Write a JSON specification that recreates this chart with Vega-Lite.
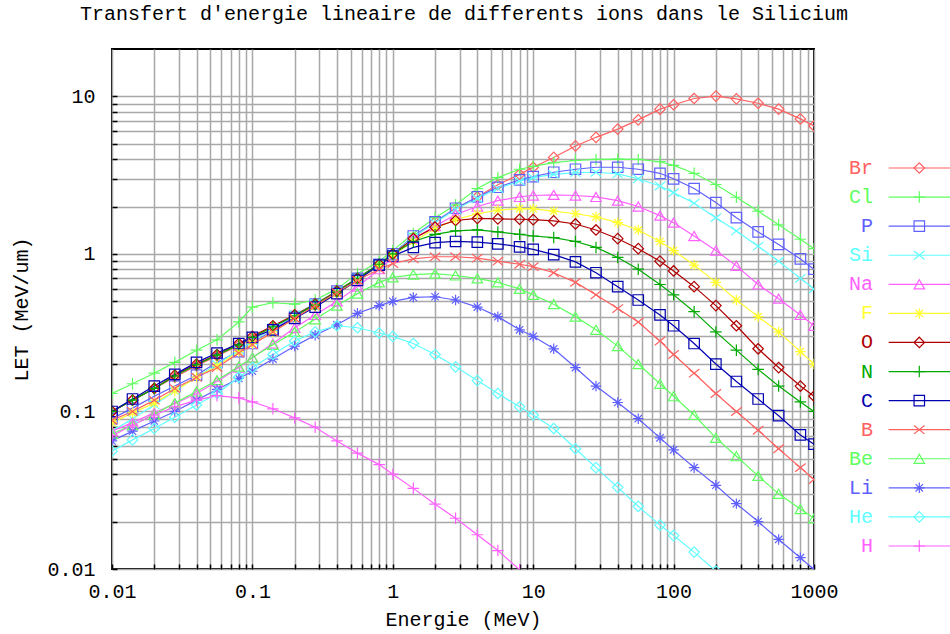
{
"$schema":"https://vega.github.io/schema/vega-lite/v6.json",
"background":"white",
"padding":{"left":10,"top":4,"right":0,"bottom":0},
"title":{"text":"Transfert d'energie lineaire de differents ions dans le Silicium","font":"Liberation Mono","fontSize":20,"fontWeight":"normal","color":"black","anchor":"start","frame":"bounds","dx":69,"offset":24},
"spacing":0,
"bounds":"flush",
"datasets":{
"legend":[{"ion":"Br"},{"ion":"Cl"},{"ion":"P"},{"ion":"Si"},{"ion":"Na"},{"ion":"F"},{"ion":"O"},{"ion":"N"},{"ion":"C"},{"ion":"B"},{"ion":"Be"},{"ion":"Li"},{"ion":"He"},{"ion":"H"}],
"let":[
{"ion":"Br","E":0.01,"LET":0.1},{"ion":"Br","E":0.014,"LET":0.118},{"ion":"Br","E":0.02,"LET":0.14},{"ion":"Br","E":0.028,"LET":0.165},{"ion":"Br","E":0.04,"LET":0.195},{"ion":"Br","E":0.056,"LET":0.225},{"ion":"Br","E":0.08,"LET":0.262},{"ion":"Br","E":0.1,"LET":0.29},{"ion":"Br","E":0.14,"LET":0.34},{"ion":"Br","E":0.2,"LET":0.41},{"ion":"Br","E":0.28,"LET":0.485},{"ion":"Br","E":0.4,"LET":0.58},{"ion":"Br","E":0.56,"LET":0.7},{"ion":"Br","E":0.8,"LET":0.86},{"ion":"Br","E":1,"LET":1.0},{"ion":"Br","E":1.4,"LET":1.27},{"ion":"Br","E":2,"LET":1.6},{"ion":"Br","E":2.8,"LET":1.93},{"ion":"Br","E":4,"LET":2.3},{"ion":"Br","E":5.6,"LET":2.75},{"ion":"Br","E":8,"LET":3.2},{"ion":"Br","E":10,"LET":3.55},{"ion":"Br","E":14,"LET":4.1},{"ion":"Br","E":20,"LET":4.85},{"ion":"Br","E":28,"LET":5.5},{"ion":"Br","E":40,"LET":6.2},{"ion":"Br","E":56,"LET":7.1},{"ion":"Br","E":80,"LET":8.3},{"ion":"Br","E":100,"LET":8.85},{"ion":"Br","E":140,"LET":9.7},{"ion":"Br","E":200,"LET":10.05},{"ion":"Br","E":280,"LET":9.65},{"ion":"Br","E":400,"LET":9.05},{"ion":"Br","E":560,"LET":8.3},{"ion":"Br","E":800,"LET":7.2},{"ion":"Br","E":1000,"LET":6.5},
{"ion":"Cl","E":0.01,"LET":0.13},{"ion":"Cl","E":0.014,"LET":0.15},{"ion":"Cl","E":0.02,"LET":0.175},{"ion":"Cl","E":0.028,"LET":0.205},{"ion":"Cl","E":0.04,"LET":0.245},{"ion":"Cl","E":0.056,"LET":0.285},{"ion":"Cl","E":0.08,"LET":0.37},{"ion":"Cl","E":0.1,"LET":0.46},{"ion":"Cl","E":0.14,"LET":0.49},{"ion":"Cl","E":0.2,"LET":0.48},{"ion":"Cl","E":0.28,"LET":0.51},{"ion":"Cl","E":0.4,"LET":0.6},{"ion":"Cl","E":0.56,"LET":0.75},{"ion":"Cl","E":0.8,"LET":0.9},{"ion":"Cl","E":1,"LET":1.05},{"ion":"Cl","E":1.4,"LET":1.35},{"ion":"Cl","E":2,"LET":1.7},{"ion":"Cl","E":2.8,"LET":2.05},{"ion":"Cl","E":4,"LET":2.6},{"ion":"Cl","E":5.6,"LET":3.05},{"ion":"Cl","E":8,"LET":3.45},{"ion":"Cl","E":10,"LET":3.6},{"ion":"Cl","E":14,"LET":3.8},{"ion":"Cl","E":20,"LET":3.92},{"ion":"Cl","E":28,"LET":3.98},{"ion":"Cl","E":40,"LET":4.0},{"ion":"Cl","E":56,"LET":3.98},{"ion":"Cl","E":80,"LET":3.85},{"ion":"Cl","E":100,"LET":3.65},{"ion":"Cl","E":140,"LET":3.25},{"ion":"Cl","E":200,"LET":2.76},{"ion":"Cl","E":280,"LET":2.29},{"ion":"Cl","E":400,"LET":1.87},{"ion":"Cl","E":560,"LET":1.53},{"ion":"Cl","E":800,"LET":1.24},{"ion":"Cl","E":1000,"LET":1.08},
{"ion":"P","E":0.01,"LET":0.09},{"ion":"P","E":0.014,"LET":0.105},{"ion":"P","E":0.02,"LET":0.125},{"ion":"P","E":0.028,"LET":0.145},{"ion":"P","E":0.04,"LET":0.17},{"ion":"P","E":0.056,"LET":0.205},{"ion":"P","E":0.08,"LET":0.24},{"ion":"P","E":0.1,"LET":0.27},{"ion":"P","E":0.14,"LET":0.33},{"ion":"P","E":0.2,"LET":0.4},{"ion":"P","E":0.28,"LET":0.48},{"ion":"P","E":0.4,"LET":0.58},{"ion":"P","E":0.56,"LET":0.7},{"ion":"P","E":0.8,"LET":0.86},{"ion":"P","E":1,"LET":1.0},{"ion":"P","E":1.4,"LET":1.3},{"ion":"P","E":2,"LET":1.6},{"ion":"P","E":2.8,"LET":1.95},{"ion":"P","E":4,"LET":2.3},{"ion":"P","E":5.6,"LET":2.65},{"ion":"P","E":8,"LET":2.95},{"ion":"P","E":10,"LET":3.1},{"ion":"P","E":14,"LET":3.3},{"ion":"P","E":20,"LET":3.45},{"ion":"P","E":28,"LET":3.55},{"ion":"P","E":40,"LET":3.55},{"ion":"P","E":56,"LET":3.45},{"ion":"P","E":80,"LET":3.25},{"ion":"P","E":100,"LET":3.0},{"ion":"P","E":140,"LET":2.6},{"ion":"P","E":200,"LET":2.12},{"ion":"P","E":280,"LET":1.7},{"ion":"P","E":400,"LET":1.38},{"ion":"P","E":560,"LET":1.15},{"ion":"P","E":800,"LET":0.93},{"ion":"P","E":1000,"LET":0.8},
{"ion":"Si","E":0.01,"LET":0.075},{"ion":"Si","E":0.014,"LET":0.09},{"ion":"Si","E":0.02,"LET":0.11},{"ion":"Si","E":0.028,"LET":0.135},{"ion":"Si","E":0.04,"LET":0.165},{"ion":"Si","E":0.056,"LET":0.2},{"ion":"Si","E":0.08,"LET":0.245},{"ion":"Si","E":0.1,"LET":0.28},{"ion":"Si","E":0.14,"LET":0.34},{"ion":"Si","E":0.2,"LET":0.41},{"ion":"Si","E":0.28,"LET":0.485},{"ion":"Si","E":0.4,"LET":0.58},{"ion":"Si","E":0.56,"LET":0.7},{"ion":"Si","E":0.8,"LET":0.86},{"ion":"Si","E":1,"LET":1.0},{"ion":"Si","E":1.4,"LET":1.28},{"ion":"Si","E":2,"LET":1.58},{"ion":"Si","E":2.8,"LET":1.92},{"ion":"Si","E":4,"LET":2.25},{"ion":"Si","E":5.6,"LET":2.6},{"ion":"Si","E":8,"LET":2.9},{"ion":"Si","E":10,"LET":3.05},{"ion":"Si","E":14,"LET":3.2},{"ion":"Si","E":20,"LET":3.28},{"ion":"Si","E":28,"LET":3.3},{"ion":"Si","E":40,"LET":3.22},{"ion":"Si","E":56,"LET":3.0},{"ion":"Si","E":80,"LET":2.7},{"ion":"Si","E":100,"LET":2.45},{"ion":"Si","E":140,"LET":2.1},{"ion":"Si","E":200,"LET":1.7},{"ion":"Si","E":280,"LET":1.4},{"ion":"Si","E":400,"LET":1.12},{"ion":"Si","E":560,"LET":0.9},{"ion":"Si","E":800,"LET":0.7},{"ion":"Si","E":1000,"LET":0.6},
{"ion":"Na","E":0.01,"LET":0.075},{"ion":"Na","E":0.014,"LET":0.085},{"ion":"Na","E":0.02,"LET":0.098},{"ion":"Na","E":0.028,"LET":0.112},{"ion":"Na","E":0.04,"LET":0.13},{"ion":"Na","E":0.056,"LET":0.155},{"ion":"Na","E":0.08,"LET":0.19},{"ion":"Na","E":0.1,"LET":0.22},{"ion":"Na","E":0.14,"LET":0.27},{"ion":"Na","E":0.2,"LET":0.34},{"ion":"Na","E":0.28,"LET":0.41},{"ion":"Na","E":0.4,"LET":0.5},{"ion":"Na","E":0.56,"LET":0.62},{"ion":"Na","E":0.8,"LET":0.8},{"ion":"Na","E":1,"LET":0.95},{"ion":"Na","E":1.4,"LET":1.25},{"ion":"Na","E":2,"LET":1.5},{"ion":"Na","E":2.8,"LET":1.78},{"ion":"Na","E":4,"LET":2.0},{"ion":"Na","E":5.6,"LET":2.18},{"ion":"Na","E":8,"LET":2.3},{"ion":"Na","E":10,"LET":2.35},{"ion":"Na","E":14,"LET":2.37},{"ion":"Na","E":20,"LET":2.35},{"ion":"Na","E":28,"LET":2.3},{"ion":"Na","E":40,"LET":2.18},{"ion":"Na","E":56,"LET":2.0},{"ion":"Na","E":80,"LET":1.75},{"ion":"Na","E":100,"LET":1.58},{"ion":"Na","E":140,"LET":1.3},{"ion":"Na","E":200,"LET":1.05},{"ion":"Na","E":280,"LET":0.84},{"ion":"Na","E":400,"LET":0.64},{"ion":"Na","E":560,"LET":0.52},{"ion":"Na","E":800,"LET":0.41},{"ion":"Na","E":1000,"LET":0.35},
{"ion":"F","E":0.01,"LET":0.085},{"ion":"F","E":0.014,"LET":0.098},{"ion":"F","E":0.02,"LET":0.113},{"ion":"F","E":0.028,"LET":0.135},{"ion":"F","E":0.04,"LET":0.165},{"ion":"F","E":0.056,"LET":0.195},{"ion":"F","E":0.08,"LET":0.24},{"ion":"F","E":0.1,"LET":0.27},{"ion":"F","E":0.14,"LET":0.32},{"ion":"F","E":0.2,"LET":0.39},{"ion":"F","E":0.28,"LET":0.465},{"ion":"F","E":0.4,"LET":0.56},{"ion":"F","E":0.56,"LET":0.68},{"ion":"F","E":0.8,"LET":0.85},{"ion":"F","E":1,"LET":0.98},{"ion":"F","E":1.4,"LET":1.2},{"ion":"F","E":2,"LET":1.45},{"ion":"F","E":2.8,"LET":1.65},{"ion":"F","E":4,"LET":1.8},{"ion":"F","E":5.6,"LET":1.9},{"ion":"F","E":8,"LET":1.94},{"ion":"F","E":10,"LET":1.93},{"ion":"F","E":14,"LET":1.87},{"ion":"F","E":20,"LET":1.8},{"ion":"F","E":28,"LET":1.72},{"ion":"F","E":40,"LET":1.58},{"ion":"F","E":56,"LET":1.42},{"ion":"F","E":80,"LET":1.2},{"ion":"F","E":100,"LET":1.05},{"ion":"F","E":140,"LET":0.85},{"ion":"F","E":200,"LET":0.66},{"ion":"F","E":280,"LET":0.51},{"ion":"F","E":400,"LET":0.4},{"ion":"F","E":560,"LET":0.32},{"ion":"F","E":800,"LET":0.24},{"ion":"F","E":1000,"LET":0.2},
{"ion":"O","E":0.01,"LET":0.1},{"ion":"O","E":0.014,"LET":0.118},{"ion":"O","E":0.02,"LET":0.14},{"ion":"O","E":0.028,"LET":0.17},{"ion":"O","E":0.04,"LET":0.2},{"ion":"O","E":0.056,"LET":0.23},{"ion":"O","E":0.08,"LET":0.27},{"ion":"O","E":0.1,"LET":0.3},{"ion":"O","E":0.14,"LET":0.35},{"ion":"O","E":0.2,"LET":0.41},{"ion":"O","E":0.28,"LET":0.48},{"ion":"O","E":0.4,"LET":0.58},{"ion":"O","E":0.56,"LET":0.7},{"ion":"O","E":0.8,"LET":0.86},{"ion":"O","E":1,"LET":1.0},{"ion":"O","E":1.4,"LET":1.25},{"ion":"O","E":2,"LET":1.48},{"ion":"O","E":2.8,"LET":1.63},{"ion":"O","E":4,"LET":1.68},{"ion":"O","E":5.6,"LET":1.67},{"ion":"O","E":8,"LET":1.66},{"ion":"O","E":10,"LET":1.65},{"ion":"O","E":14,"LET":1.62},{"ion":"O","E":20,"LET":1.55},{"ion":"O","E":28,"LET":1.42},{"ion":"O","E":40,"LET":1.25},{"ion":"O","E":56,"LET":1.08},{"ion":"O","E":80,"LET":0.9},{"ion":"O","E":100,"LET":0.78},{"ion":"O","E":140,"LET":0.62},{"ion":"O","E":200,"LET":0.47},{"ion":"O","E":280,"LET":0.35},{"ion":"O","E":400,"LET":0.25},{"ion":"O","E":560,"LET":0.19},{"ion":"O","E":800,"LET":0.145},{"ion":"O","E":1000,"LET":0.125},
{"ion":"N","E":0.01,"LET":0.1},{"ion":"N","E":0.014,"LET":0.118},{"ion":"N","E":0.02,"LET":0.14},{"ion":"N","E":0.028,"LET":0.168},{"ion":"N","E":0.04,"LET":0.198},{"ion":"N","E":0.056,"LET":0.228},{"ion":"N","E":0.08,"LET":0.265},{"ion":"N","E":0.1,"LET":0.295},{"ion":"N","E":0.14,"LET":0.345},{"ion":"N","E":0.2,"LET":0.405},{"ion":"N","E":0.28,"LET":0.475},{"ion":"N","E":0.4,"LET":0.575},{"ion":"N","E":0.56,"LET":0.7},{"ion":"N","E":0.8,"LET":0.86},{"ion":"N","E":1,"LET":1.0},{"ion":"N","E":1.4,"LET":1.2},{"ion":"N","E":2,"LET":1.33},{"ion":"N","E":2.8,"LET":1.4},{"ion":"N","E":4,"LET":1.42},{"ion":"N","E":5.6,"LET":1.38},{"ion":"N","E":8,"LET":1.33},{"ion":"N","E":10,"LET":1.3},{"ion":"N","E":14,"LET":1.27},{"ion":"N","E":20,"LET":1.2},{"ion":"N","E":28,"LET":1.1},{"ion":"N","E":40,"LET":0.95},{"ion":"N","E":56,"LET":0.8},{"ion":"N","E":80,"LET":0.64},{"ion":"N","E":100,"LET":0.55},{"ion":"N","E":140,"LET":0.43},{"ion":"N","E":200,"LET":0.32},{"ion":"N","E":280,"LET":0.245},{"ion":"N","E":400,"LET":0.185},{"ion":"N","E":560,"LET":0.145},{"ion":"N","E":800,"LET":0.115},{"ion":"N","E":1000,"LET":0.1},
{"ion":"C","E":0.01,"LET":0.1},{"ion":"C","E":0.014,"LET":0.12},{"ion":"C","E":0.02,"LET":0.145},{"ion":"C","E":0.028,"LET":0.172},{"ion":"C","E":0.04,"LET":0.205},{"ion":"C","E":0.056,"LET":0.235},{"ion":"C","E":0.08,"LET":0.27},{"ion":"C","E":0.1,"LET":0.295},{"ion":"C","E":0.14,"LET":0.33},{"ion":"C","E":0.2,"LET":0.39},{"ion":"C","E":0.28,"LET":0.46},{"ion":"C","E":0.4,"LET":0.56},{"ion":"C","E":0.56,"LET":0.68},{"ion":"C","E":0.8,"LET":0.85},{"ion":"C","E":1,"LET":0.97},{"ion":"C","E":1.4,"LET":1.1},{"ion":"C","E":2,"LET":1.18},{"ion":"C","E":2.8,"LET":1.2},{"ion":"C","E":4,"LET":1.19},{"ion":"C","E":5.6,"LET":1.16},{"ion":"C","E":8,"LET":1.11},{"ion":"C","E":10,"LET":1.07},{"ion":"C","E":14,"LET":0.99},{"ion":"C","E":20,"LET":0.89},{"ion":"C","E":28,"LET":0.76},{"ion":"C","E":40,"LET":0.62},{"ion":"C","E":56,"LET":0.51},{"ion":"C","E":80,"LET":0.41},{"ion":"C","E":100,"LET":0.35},{"ion":"C","E":140,"LET":0.27},{"ion":"C","E":200,"LET":0.2},{"ion":"C","E":280,"LET":0.155},{"ion":"C","E":400,"LET":0.12},{"ion":"C","E":560,"LET":0.094},{"ion":"C","E":800,"LET":0.071},{"ion":"C","E":1000,"LET":0.062},
{"ion":"B","E":0.01,"LET":0.088},{"ion":"B","E":0.014,"LET":0.1},{"ion":"B","E":0.02,"LET":0.118},{"ion":"B","E":0.028,"LET":0.14},{"ion":"B","E":0.04,"LET":0.165},{"ion":"B","E":0.056,"LET":0.19},{"ion":"B","E":0.08,"LET":0.235},{"ion":"B","E":0.1,"LET":0.265},{"ion":"B","E":0.14,"LET":0.32},{"ion":"B","E":0.2,"LET":0.39},{"ion":"B","E":0.28,"LET":0.47},{"ion":"B","E":0.4,"LET":0.57},{"ion":"B","E":0.56,"LET":0.68},{"ion":"B","E":0.8,"LET":0.8},{"ion":"B","E":1,"LET":0.87},{"ion":"B","E":1.4,"LET":0.93},{"ion":"B","E":2,"LET":0.96},{"ion":"B","E":2.8,"LET":0.96},{"ion":"B","E":4,"LET":0.94},{"ion":"B","E":5.6,"LET":0.9},{"ion":"B","E":8,"LET":0.86},{"ion":"B","E":10,"LET":0.83},{"ion":"B","E":14,"LET":0.76},{"ion":"B","E":20,"LET":0.66},{"ion":"B","E":28,"LET":0.55},{"ion":"B","E":40,"LET":0.45},{"ion":"B","E":56,"LET":0.37},{"ion":"B","E":80,"LET":0.28},{"ion":"B","E":100,"LET":0.23},{"ion":"B","E":140,"LET":0.175},{"ion":"B","E":200,"LET":0.13},{"ion":"B","E":280,"LET":0.1},{"ion":"B","E":400,"LET":0.076},{"ion":"B","E":560,"LET":0.058},{"ion":"B","E":800,"LET":0.044},{"ion":"B","E":1000,"LET":0.037},
{"ion":"Be","E":0.01,"LET":0.072},{"ion":"Be","E":0.014,"LET":0.082},{"ion":"Be","E":0.02,"LET":0.096},{"ion":"Be","E":0.028,"LET":0.113},{"ion":"Be","E":0.04,"LET":0.134},{"ion":"Be","E":0.056,"LET":0.158},{"ion":"Be","E":0.08,"LET":0.193},{"ion":"Be","E":0.1,"LET":0.22},{"ion":"Be","E":0.14,"LET":0.265},{"ion":"Be","E":0.2,"LET":0.32},{"ion":"Be","E":0.28,"LET":0.385},{"ion":"Be","E":0.4,"LET":0.47},{"ion":"Be","E":0.56,"LET":0.56},{"ion":"Be","E":0.8,"LET":0.66},{"ion":"Be","E":1,"LET":0.71},{"ion":"Be","E":1.4,"LET":0.74},{"ion":"Be","E":2,"LET":0.75},{"ion":"Be","E":2.8,"LET":0.73},{"ion":"Be","E":4,"LET":0.7},{"ion":"Be","E":5.6,"LET":0.66},{"ion":"Be","E":8,"LET":0.6},{"ion":"Be","E":10,"LET":0.55},{"ion":"Be","E":14,"LET":0.48},{"ion":"Be","E":20,"LET":0.4},{"ion":"Be","E":28,"LET":0.33},{"ion":"Be","E":40,"LET":0.26},{"ion":"Be","E":56,"LET":0.2},{"ion":"Be","E":80,"LET":0.15},{"ion":"Be","E":100,"LET":0.125},{"ion":"Be","E":140,"LET":0.095},{"ion":"Be","E":200,"LET":0.068},{"ion":"Be","E":280,"LET":0.052},{"ion":"Be","E":400,"LET":0.039},{"ion":"Be","E":560,"LET":0.03},{"ion":"Be","E":800,"LET":0.024},{"ion":"Be","E":1000,"LET":0.021},
{"ion":"Li","E":0.01,"LET":0.065},{"ion":"Li","E":0.014,"LET":0.075},{"ion":"Li","E":0.02,"LET":0.087},{"ion":"Li","E":0.028,"LET":0.1},{"ion":"Li","E":0.04,"LET":0.118},{"ion":"Li","E":0.056,"LET":0.138},{"ion":"Li","E":0.08,"LET":0.162},{"ion":"Li","E":0.1,"LET":0.18},{"ion":"Li","E":0.14,"LET":0.215},{"ion":"Li","E":0.2,"LET":0.26},{"ion":"Li","E":0.28,"LET":0.305},{"ion":"Li","E":0.4,"LET":0.355},{"ion":"Li","E":0.56,"LET":0.42},{"ion":"Li","E":0.8,"LET":0.47},{"ion":"Li","E":1,"LET":0.5},{"ion":"Li","E":1.4,"LET":0.53},{"ion":"Li","E":2,"LET":0.535},{"ion":"Li","E":2.8,"LET":0.51},{"ion":"Li","E":4,"LET":0.46},{"ion":"Li","E":5.6,"LET":0.4},{"ion":"Li","E":8,"LET":0.33},{"ion":"Li","E":10,"LET":0.3},{"ion":"Li","E":14,"LET":0.25},{"ion":"Li","E":20,"LET":0.19},{"ion":"Li","E":28,"LET":0.145},{"ion":"Li","E":40,"LET":0.114},{"ion":"Li","E":56,"LET":0.09},{"ion":"Li","E":80,"LET":0.068},{"ion":"Li","E":100,"LET":0.057},{"ion":"Li","E":140,"LET":0.044},{"ion":"Li","E":200,"LET":0.034},{"ion":"Li","E":280,"LET":0.026},{"ion":"Li","E":400,"LET":0.02},{"ion":"Li","E":560,"LET":0.0154},{"ion":"Li","E":800,"LET":0.0118},{"ion":"Li","E":1000,"LET":0.0099},
{"ion":"He","E":0.01,"LET":0.056},{"ion":"He","E":0.014,"LET":0.066},{"ion":"He","E":0.02,"LET":0.078},{"ion":"He","E":0.028,"LET":0.092},{"ion":"He","E":0.04,"LET":0.11},{"ion":"He","E":0.056,"LET":0.13},{"ion":"He","E":0.08,"LET":0.165},{"ion":"He","E":0.1,"LET":0.19},{"ion":"He","E":0.14,"LET":0.23},{"ion":"He","E":0.2,"LET":0.28},{"ion":"He","E":0.28,"LET":0.32},{"ion":"He","E":0.4,"LET":0.35},{"ion":"He","E":0.56,"LET":0.34},{"ion":"He","E":0.8,"LET":0.315},{"ion":"He","E":1,"LET":0.3},{"ion":"He","E":1.4,"LET":0.27},{"ion":"He","E":2,"LET":0.23},{"ion":"He","E":2.8,"LET":0.192},{"ion":"He","E":4,"LET":0.157},{"ion":"He","E":5.6,"LET":0.13},{"ion":"He","E":8,"LET":0.107},{"ion":"He","E":10,"LET":0.095},{"ion":"He","E":14,"LET":0.078},{"ion":"He","E":20,"LET":0.058},{"ion":"He","E":28,"LET":0.044},{"ion":"He","E":40,"LET":0.033},{"ion":"He","E":56,"LET":0.025},{"ion":"He","E":80,"LET":0.019},{"ion":"He","E":100,"LET":0.0163},{"ion":"He","E":140,"LET":0.0128},{"ion":"He","E":200,"LET":0.0097},{"ion":"He","E":280,"LET":0.0075},
{"ion":"H","E":0.01,"LET":0.07},{"ion":"H","E":0.014,"LET":0.082},{"ion":"H","E":0.02,"LET":0.095},{"ion":"H","E":0.028,"LET":0.107},{"ion":"H","E":0.04,"LET":0.118},{"ion":"H","E":0.056,"LET":0.126},{"ion":"H","E":0.08,"LET":0.122},{"ion":"H","E":0.1,"LET":0.115},{"ion":"H","E":0.14,"LET":0.104},{"ion":"H","E":0.2,"LET":0.091},{"ion":"H","E":0.28,"LET":0.0795},{"ion":"H","E":0.4,"LET":0.065},{"ion":"H","E":0.56,"LET":0.0544},{"ion":"H","E":0.8,"LET":0.046},{"ion":"H","E":1,"LET":0.04},{"ion":"H","E":1.4,"LET":0.0325},{"ion":"H","E":2,"LET":0.0258},{"ion":"H","E":2.8,"LET":0.021},{"ion":"H","E":4,"LET":0.0165},{"ion":"H","E":5.6,"LET":0.0131},{"ion":"H","E":8,"LET":0.0099},{"ion":"H","E":10,"LET":0.0085}
]},
"hconcat":[
{
"width":702,"height":520,
"view":{"stroke":"black","strokeWidth":2},
"data":{"name":"let"},
"encoding":{
"x":{"field":"E","type":"quantitative","scale":{"type":"log","domain":[0.01,1000],"nice":false},
"axis":{"title":"Energie (MeV)","values":[0.01,0.02,0.03,0.04,0.05,0.06,0.07,0.08,0.09,0.1,0.2,0.3,0.4,0.5,0.6,0.7,0.8,0.9,1,2,3,4,5,6,7,8,9,10,20,30,40,50,60,70,80,90,100,200,300,400,500,600,700,800,900,1000],"format":"~g","labelExpr":"indexof([0.01,0.1,1,10,100,1000], datum.value) >= 0 ? datum.label : ''","labelFlush":false,"labelOverlap":false,"labelPadding":17,"titlePadding":8,"tickSize":-5,"grid":true}},
"y":{"field":"LET","type":"quantitative","scale":{"type":"log","domain":[0.01,20],"nice":false},
"axis":{"title":"LET (MeV/um)","values":[0.01,0.02,0.03,0.04,0.05,0.06,0.07,0.08,0.09,0.1,0.2,0.3,0.4,0.5,0.6,0.7,0.8,0.9,1,2,3,4,5,6,7,8,9,10],"format":"~g","labelExpr":"indexof([0.01,0.1,1,10], datum.value) >= 0 ? datum.label : ''","labelFlush":false,"labelOverlap":false,"labelPadding":22,"titlePadding":15,"tickSize":-5,"grid":true}},
"color":{"field":"ion","type":"nominal","scale":{"domain":["Br","Cl","P","Si","Na","F","O","N","C","B","Be","Li","He","H"],"range":["#ff6060","#60ff60","#6060ff","#60ffff","#ff60ff","#ffff30","#b00000","#00a800","#0000b0","#ff6060","#60ff60","#6060ff","#60ffff","#ff60ff"]},"legend":null}
},
"layer":[
{"mark":{"type":"line","clip":true,"strokeWidth":1.2},"encoding":{}},
{"mark":{"type":"point","clip":true,"filled":false,"size":110,"strokeWidth":1.2,"opacity":1},
"encoding":{"shape":{"field":"ion","type":"nominal","scale":{"domain":["Br","Cl","P","Si","Na","F","O","N","C","B","Be","Li","He","H"],"range":["diamond","M-1.1,0H1.1M0,-1.1V1.1","square","M-1,-0.8L1,0.8M-1,0.8L1,-0.8","triangle-up","M-1,0H1M0,-1V1M-0.7,-0.7L0.7,0.7M-0.7,0.7L0.7,-0.7","diamond","M-1.1,0H1.1M0,-1.1V1.1","square","M-1,-0.8L1,0.8M-1,0.8L1,-0.8","triangle-up","M-1,0H1M0,-1V1M-0.7,-0.7L0.7,0.7M-0.7,0.7L0.7,-0.7","diamond","M-1.1,0H1.1M0,-1.1V1.1"]},"legend":null}}}
]
},
{
"width":138,"height":520,
"view":{"stroke":null},
"data":{"name":"legend"},
"encoding":{
"y":{"field":"ion","type":"nominal","scale":{"type":"point","padding":0,"domain":["Br","Cl","P","Si","Na","F","O","N","C","B","Be","Li","He","H"],"range":[119,497]},"axis":null},
"color":{"field":"ion","type":"nominal","scale":{"domain":["Br","Cl","P","Si","Na","F","O","N","C","B","Be","Li","He","H"],"range":["#ff6060","#60ff60","#6060ff","#60ffff","#ff60ff","#ffff30","#b00000","#00a800","#0000b0","#ff6060","#60ff60","#6060ff","#60ffff","#ff60ff"]},"legend":null}
},
"layer":[
{"mark":{"type":"rule","strokeWidth":1.2},"encoding":{"x":{"datum":0.541,"type":"quantitative","scale":{"domain":[0,1]},"axis":null},"x2":{"datum":1}}},
{"mark":{"type":"point","filled":false,"size":110,"strokeWidth":1.2,"opacity":1},"encoding":{"x":{"datum":0.763,"type":"quantitative","scale":{"domain":[0,1]},"axis":null},
"shape":{"field":"ion","type":"nominal","scale":{"domain":["Br","Cl","P","Si","Na","F","O","N","C","B","Be","Li","He","H"],"range":["diamond","M-1.1,0H1.1M0,-1.1V1.1","square","M-1,-0.8L1,0.8M-1,0.8L1,-0.8","triangle-up","M-1,0H1M0,-1V1M-0.7,-0.7L0.7,0.7M-0.7,0.7L0.7,-0.7","diamond","M-1.1,0H1.1M0,-1.1V1.1","square","M-1,-0.8L1,0.8M-1,0.8L1,-0.8","triangle-up","M-1,0H1M0,-1V1M-0.7,-0.7L0.7,0.7M-0.7,0.7L0.7,-0.7","diamond","M-1.1,0H1.1M0,-1.1V1.1"]},"legend":null}}},
{"mark":{"type":"text","align":"right","baseline":"middle","font":"Liberation Mono","fontSize":20},"encoding":{"x":{"datum":0.428,"type":"quantitative","scale":{"domain":[0,1]},"axis":null},"text":{"field":"ion"}}}
]
}
],
"config":{
"font":"Liberation Mono",
"axis":{"labelFont":"Liberation Mono","labelFontSize":20,"labelColor":"black","titleFont":"Liberation Mono","titleFontSize":20,"titleFontWeight":"normal","titleColor":"black","gridColor":"#a8a8a8","gridWidth":1.5,"gridOpacity":1,"tickColor":"black","tickWidth":1.5,"domain":false}
}
}
